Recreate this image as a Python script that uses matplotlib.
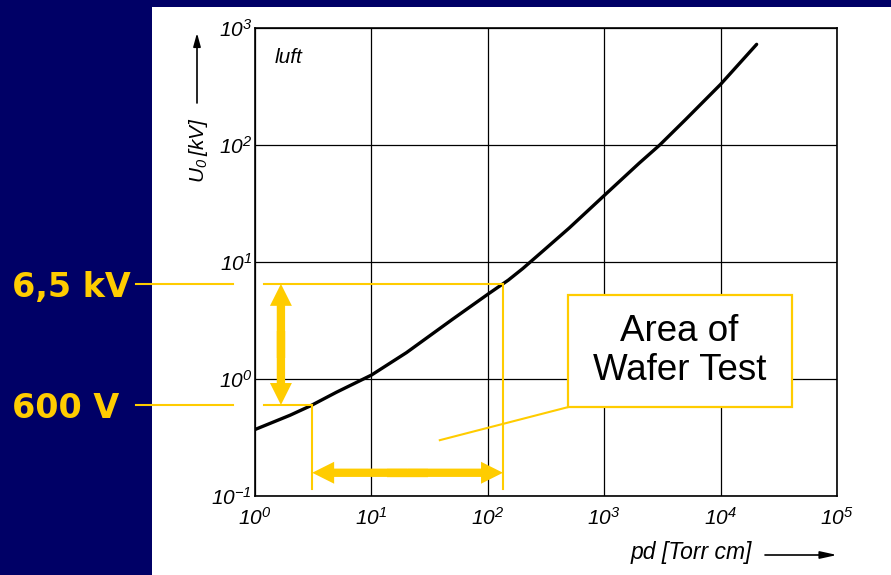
import matplotlib
matplotlib.use("Agg")
import matplotlib.pyplot as plt
from matplotlib import font_manager
from matplotlib.patches import Rectangle, FancyArrowPatch
from matplotlib.lines import Line2D
from matplotlib.transforms import blended_transform_factory
from matplotlib.ticker import NullLocator

# ---------------- data ----------------
pd_values = [1, 2, 3, 5, 10, 20, 30, 50, 100, 150, 200, 300, 500, 1000, 2000, 3000,
             5000, 10000, 20400]
u_values = [0.37, 0.49, 0.59, 0.77, 1.08, 1.68, 2.25, 3.25, 5.3, 7.0, 8.8, 12.5, 19.5, 37,
            70, 100, 165, 330, 725]

x_ticks = [1, 10, 100, 1e3, 1e4, 1e5]
x_tick_labels = [r"$10^{0}$", r"$10^{1}$", r"$10^{2}$", r"$10^{3}$", r"$10^{4}$", r"$10^{5}$"]
y_ticks = [0.1, 1, 10, 100, 1000]
y_tick_labels = [r"$10^{-1}$", r"$10^{0}$", r"$10^{1}$", r"$10^{2}$", r"$10^{3}$"]

u_high = 6.5          # kV
u_low = 0.6           # kV
pd_low = 3.1          # Torr cm
pd_high = 135         # Torr cm
label_high = "6,5 kV"
label_low = "600 V"
box_text = "Area of\nWafer Test"
medium_text = "luft"
x_label = "pd [Torr cm]"
y_label = r"$U_0\,[kV]$"

# annotation geometry (data units)
guide_start_pd = 1.2
guide_floor_u = 0.115
h_arrow_u = 0.158
v_arrow_pd = 1.67
leader_start = (38.7, 0.30)
box_pd = (486, 40700)
box_u = (0.574, 5.2)

NAVY = "#000066"
YELLOW = "#FFCC00"


def has_font(name):
    try:
        font_manager.findfont(font_manager.FontProperties(family=name),
                              fallback_to_default=False)
        return True
    except Exception:
        return False


hand = "Liberation Sans Narrow" if has_font("Liberation Sans Narrow") else "Liberation Sans"
plt.rcParams["mathtext.fontset"] = "custom"
plt.rcParams["mathtext.default"] = "regular"

W, H = 891, 575
fig = plt.figure(figsize=(W / 100, H / 100), dpi=100)
fig.patch.set_facecolor(NAVY)
fig.add_artist(Rectangle((152 / W, 0), 1 - 152 / W, 1 - 7 / H, transform=fig.transFigure,
                         facecolor="white", edgecolor="none", zorder=0))

ax = fig.add_axes([255 / W, 1 - 496 / H, 582 / W, 468 / H])
ax.set_facecolor("white")
ax.set_xscale("log")
ax.set_yscale("log")
ax.set_xlim(1, 1e5)
ax.set_ylim(0.1, 1000)
ax.xaxis.set_minor_locator(NullLocator())
ax.yaxis.set_minor_locator(NullLocator())
ax.set_xticks(x_ticks, labels=x_tick_labels)
ax.set_yticks(y_ticks, labels=y_tick_labels)
ax.tick_params(length=0)
ax.tick_params(axis="x", pad=8)
ax.tick_params(axis="y", pad=2)
tick_fp = font_manager.FontProperties(family=hand, style="italic", size=15)
for lbl in ax.get_xticklabels() + ax.get_yticklabels():
    lbl.set_fontproperties(tick_fp)
ax.grid(True, color="black", lw=0.9)
ax.set_axisbelow(True)
for s in ax.spines.values():
    s.set_color("black")
    s.set_linewidth(1.2)

# Paschen curve
ax.plot(pd_values, u_values, color="black", lw=2.4, solid_capstyle="round",
        solid_joinstyle="round", zorder=3)

ax.text(0.034, 0.938, medium_text, transform=ax.transAxes, fontproperties=
        font_manager.FontProperties(family=hand, style="italic", size=15), va="center")

# axis labels with arrows
lab_fp = font_manager.FontProperties(family=hand, style="italic", size=15)
fig.text(199 / W, 1 - 150 / H, y_label, rotation=90, ha="center", va="center",
         fontproperties=lab_fp)
fig.add_artist(FancyArrowPatch((197 / W, 1 - 103 / H), (197 / W, 1 - 33 / H),
                               transform=fig.transFigure,
                               arrowstyle="-|>,head_length=8,head_width=2.2",
                               mutation_scale=1, lw=1.2, color="black",
                               shrinkA=0, shrinkB=0))
fig.text(691 / W, 1 - 553 / H, x_label, ha="center", va="center",
         fontproperties=font_manager.FontProperties(family=hand, style="italic", size=16.5))
fig.add_artist(FancyArrowPatch((765 / W, 1 - 555 / H), (837 / W, 1 - 555 / H),
                               transform=fig.transFigure,
                               arrowstyle="-|>,head_length=10,head_width=2.2",
                               mutation_scale=1, lw=1.2, color="black",
                               shrinkA=0, shrinkB=0))

# ---------------- yellow annotations ----------------
fig_data = blended_transform_factory(fig.transFigure, ax.transData)
for u in (u_high, u_low):
    fig.add_artist(Line2D([136 / W, 233 / W], [u, u], transform=fig_data,
                          color=YELLOW, lw=1.5))

ax.plot([guide_start_pd, pd_high], [u_high, u_high], color=YELLOW, lw=1.5,
        clip_on=False, zorder=4)
ax.plot([guide_start_pd, pd_low], [u_low, u_low], color=YELLOW, lw=1.5,
        clip_on=False, zorder=4)
ax.plot([pd_low, pd_low], [u_low, guide_floor_u], color=YELLOW, lw=1.5, zorder=4)
ax.plot([pd_high, pd_high], [u_high, guide_floor_u], color=YELLOW, lw=1.5, zorder=4)

label_fp = font_manager.FontProperties(family="DejaVu Sans", weight="bold", size=24)
fig.text(12 / W, u_high, label_high, transform=fig_data, color=YELLOW,
         fontproperties=label_fp, ha="left", va="center_baseline")
fig.text(12 / W, u_low, label_low, transform=fig_data, color=YELLOW,
         fontproperties=label_fp, ha="left", va="center_baseline")

TAIL = 6
arrow_style = f"simple,head_length=15.8,head_width=15.8,tail_width={TAIL}"


def double_arrow(p_a, p_b, p_mid, p_mid_a, p_mid_b):
    for tip in (p_a, p_b):
        ax.add_patch(FancyArrowPatch(p_mid, tip, arrowstyle=arrow_style, mutation_scale=1,
                                     color=YELLOW, lw=0, shrinkA=0, shrinkB=0, zorder=5))
    ax.add_line(Line2D([p_mid_a[0], p_mid_b[0]], [p_mid_a[1], p_mid_b[1]], color=YELLOW,
                       lw=TAIL, solid_capstyle="butt", zorder=5))


# vertical double arrow (0.6 kV .. 6.5 kV)
mid_u = (u_low * u_high) ** 0.5
double_arrow((v_arrow_pd, u_high), (v_arrow_pd, u_low), (v_arrow_pd, mid_u),
             (v_arrow_pd, mid_u / 1.3), (v_arrow_pd, mid_u * 1.3))
# horizontal double arrow (pd_low .. pd_high)
mid_pd = (pd_low * pd_high) ** 0.5
double_arrow((pd_high, h_arrow_u), (pd_low, h_arrow_u), (mid_pd, h_arrow_u),
             (mid_pd / 1.5, h_arrow_u), (mid_pd * 1.5, h_arrow_u))

# text box with leader line
ax.plot([leader_start[0], box_pd[0]], [leader_start[1], box_u[0]], color=YELLOW, lw=1.5,
        zorder=4)
ax.add_patch(Rectangle((box_pd[0], box_u[0]), box_pd[1] - box_pd[0], box_u[1] - box_u[0],
                       facecolor="white", edgecolor=YELLOW, lw=1.6, zorder=6))
box_fp = font_manager.FontProperties(family="Liberation Sans", size=26.5)
ax.text((box_pd[0] * box_pd[1]) ** 0.5, (box_u[0] * box_u[1]) ** 0.5, box_text,
        ha="center", va="center", multialignment="center", linespacing=1.15,
        fontproperties=box_fp, color="black", zorder=7)

fig.savefig("out.png", dpi=100, facecolor=NAVY)
